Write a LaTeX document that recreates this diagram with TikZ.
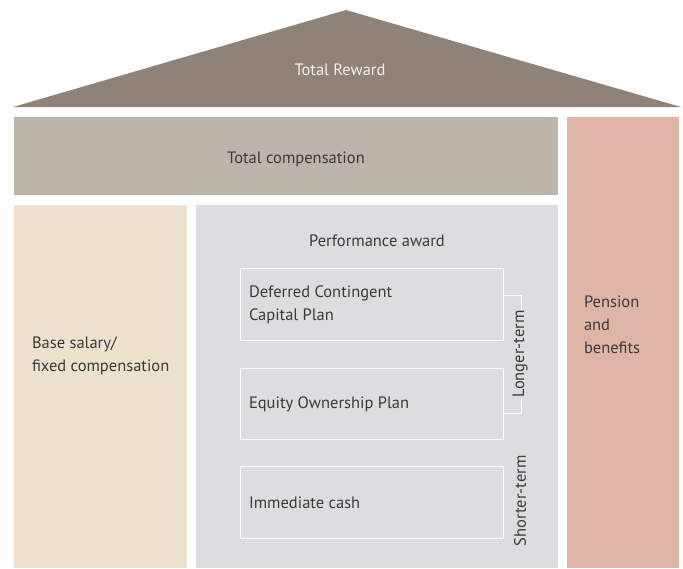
\documentclass[tikz,border=0pt]{standalone}
\usepackage{fontspec}
\setmainfont{PT Sans}
\begin{document}
\begin{tikzpicture}[x=1pt,y=-1pt,
  every node/.style={inner sep=0pt, outer sep=0pt, font=\fontsize{16.5}{23}\selectfont, text=txt},
  panel/.style={anchor=north west, draw=none},
  sub/.style={anchor=north west, draw=white, line width=0.8pt},
  lbl/.style={align=left, anchor=west},
  brk/.style={draw=white, line width=0.8pt}]
\definecolor{roof}{HTML}{8F8377}
\definecolor{tcomp}{HTML}{BDB4AB}
\definecolor{pens}{HTML}{DFB5A7}
\definecolor{base}{HTML}{EDE2CE}
\definecolor{perf}{HTML}{DDDDDF}
\definecolor{txt}{HTML}{3A3A3A}
\definecolor{rooftxt}{HTML}{F4F1EE}
\useasboundingbox (0,0) rectangle (683,568);
% roof
\fill[roof] (13,107) -- (346,10) -- (681,107) -- cycle;
\node[text=rooftxt] (tr) at (340,70) {Total Reward};
% panels
\node[panel, fill=tcomp, minimum width=544pt, minimum height=78pt] (tc) at (14,117) {};
\node (tctext) at (296,159) {Total compensation};
\node[panel, fill=pens, minimum width=112pt, minimum height=451pt] (pb) at (567,117) {};
\node[panel, fill=base, minimum width=173pt, minimum height=363pt] (bs) at (14,205) {};
\node[panel, fill=perf, minimum width=362pt, minimum height=363pt] (pa) at (196,205) {};
% panel texts
\node[lbl] (bstext) at (32,356) {Base salary/\\fixed compensation};
\node[lbl] (pbtext) at (584,325) {Pension\\and\\benefits};
\node (patext) at (377,241) {Performance award};
% sub boxes
\node[sub, minimum width=263pt, minimum height=72pt] (b1) at (240,268) {};
\node[sub, minimum width=263pt, minimum height=71pt] (b2) at (240,368) {};
\node[sub, minimum width=263pt, minimum height=72pt] (b3) at (240,466) {};
\node[lbl] (b1text) at (249,305) {Deferred Contingent\\Capital Plan};
\node[lbl] (b2text) at (249,404) {Equity Ownership Plan};
\node[lbl] (b3text) at (249,503) {Immediate cash};
% bracket and terms
\node[rotate=90] (lt) at (520,354) {Longer-term};
\node[rotate=90] (st) at (520,501) {Shorter-term};
\coordinate (a1) at (521,295);
\coordinate (a2) at (521,413);
\draw[brk] (b1.east |- a1) -- (a1) -- (lt.east -| a1);
\draw[brk] (lt.west -| a2) -- (a2) -- (b2.east |- a2);
\end{tikzpicture}
\end{document}
